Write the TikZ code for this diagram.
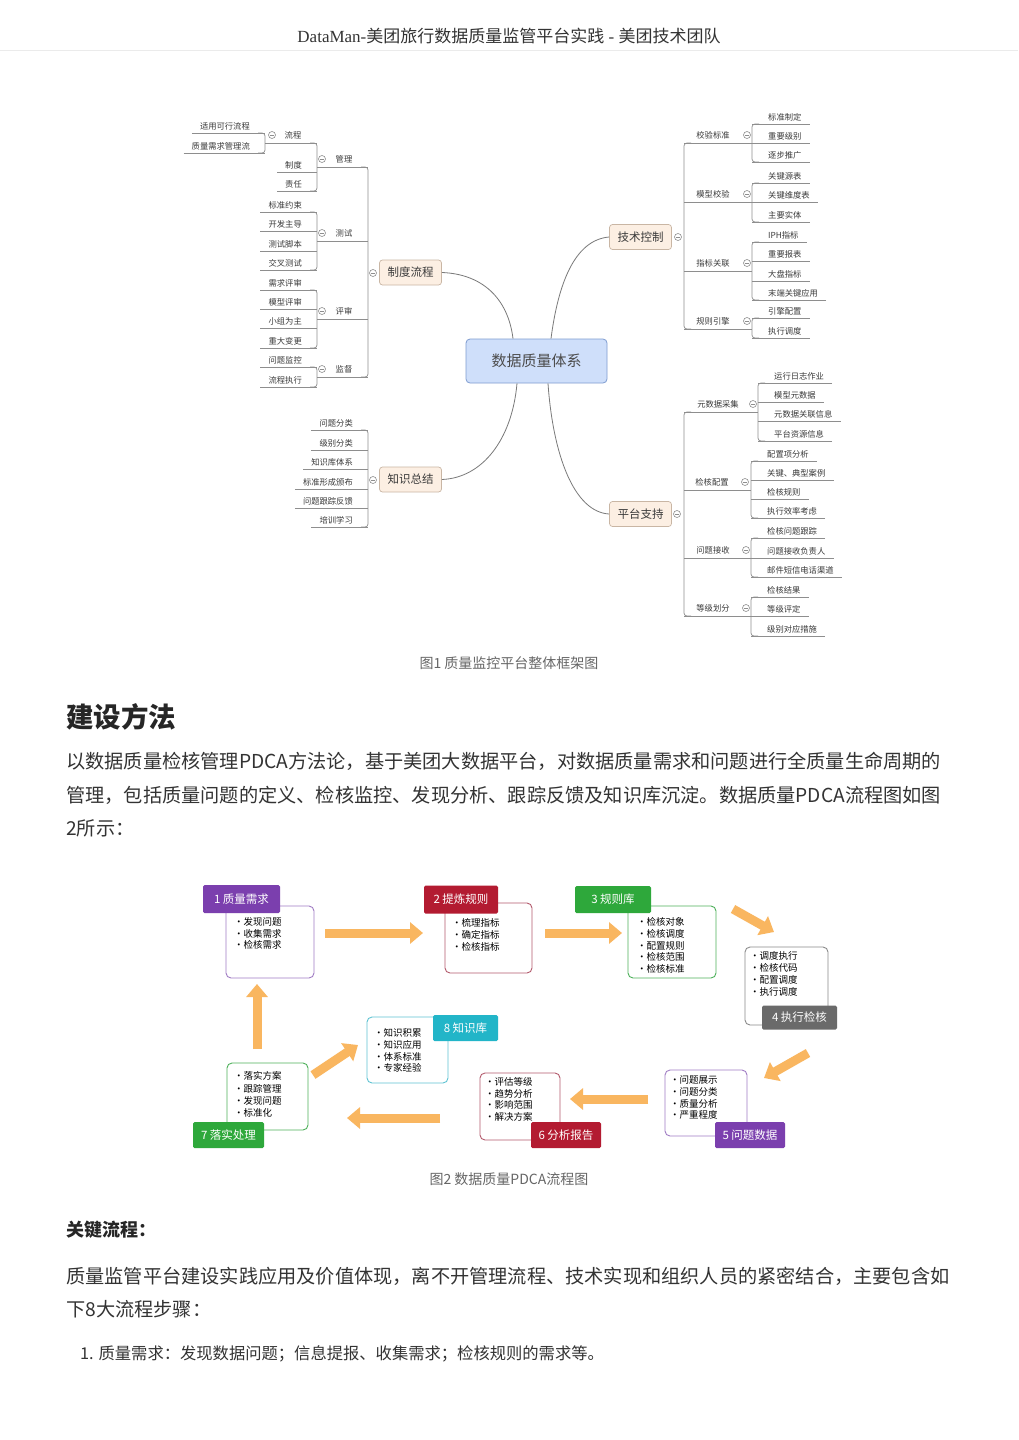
\documentclass[tikz,border=0pt]{standalone}
\usepackage{fontspec}
\setmainfont{Noto Sans CJK SC}
\newfontfamily\lserif{Liberation Serif}
\usetikzlibrary{arrows.meta}
\definecolor{mmgray}{HTML}{8E8E8E}
\definecolor{mmtext}{HTML}{3A3A3A}
\definecolor{ctrfill}{HTML}{CFDFFA}
\definecolor{ctrdraw}{HTML}{7F9CD0}
\definecolor{lonefill}{HTML}{FCEFE3}
\definecolor{lonedraw}{HTML}{C9B6A4}
\definecolor{bodytext}{HTML}{333333}
\definecolor{capgray}{HTML}{666666}
\definecolor{tpurple}{HTML}{7B3FAE}
\definecolor{tred}{HTML}{B31B31}
\definecolor{tgreen}{HTML}{2EA83B}
\definecolor{tgray}{HTML}{6A6A6A}
\definecolor{tteal}{HTML}{22B5C8}
\definecolor{bpurple}{HTML}{A07CC4}
\definecolor{bred}{HTML}{B35A6C}
\definecolor{bgreen}{HTML}{4DB05A}
\definecolor{bgray}{HTML}{8A8A8A}
\definecolor{bteal}{HTML}{5EC3D2}
\definecolor{arr}{HTML}{F9B660}
\newcommand\fsz[2]{\fontsize{#1}{#2}\selectfont}
\tikzset{
  mml/.style={draw=mmgray, line width=0.7pt},
  mmcurve/.style={draw=mmgray!85!black, line width=0.8pt},
  leaf/.style={font=\fsz{8.3}{10}, text=mmtext, inner sep=1pt},
  mmc/.style={circle, draw=mmgray, fill=white, line width=0.6pt, minimum size=7pt, inner sep=0pt},
  lone/.style={draw=lonedraw, fill=lonefill, rounded corners=3pt, minimum width=62pt, minimum height=25pt, font=\fsz{11.5}{13}, text=mmtext, line width=0.7pt},
  central/.style={draw=ctrdraw, fill=ctrfill, rounded corners=4pt, minimum width=141pt, minimum height=44pt, font=\fsz{15}{17}, text=black!70, line width=0.8pt},
  body/.style={font=\fsz{19.2}{23}, text=bodytext, inner sep=0pt, anchor=west},
  caption/.style={font=\fsz{14}{16}, text=capgray, inner sep=0pt},
  tag/.style={fill=#1, text=white, font=\fsz{11.5}{13}, inner sep=0pt, rounded corners=1.5pt},
  cbox/.style={draw=#1, fill=white, rounded corners=5pt, line width=0.9pt, inner sep=0pt},
  item/.style={font=\fsz{9.5}{11}, text=black, inner sep=0pt, anchor=west},
  bigarrow/.style={draw=arr, line width=9pt, -{Triangle[length=13pt,width=21pt]}},
}
\newcommand\mmcirc[3]{\node[mmc] (#1) at (#2,#3) {}; \draw[mml,line width=0.6pt] ([xshift=-2pt]#1.center) -- ([xshift=2pt]#1.center);}
\newcommand\lleaf[4]{\node[leaf,anchor=south east] (#1) at (#2-14,#3-1.5) {#4}; \draw[mml] (#1.south west) ++(-7,1.5) -- (#2,#3);}
\newcommand\rleaf[4]{\node[leaf,anchor=south west] (#1) at (#2+15,#3-1.5) {#4}; \draw[mml] (#1.south east) ++(7,1.5) -- (#2,#3);}
\newcommand\lbr[3]{\draw[mml,rounded corners=3pt] (#1-7,#2) -- (#1,#2) -- (#1,#3) -- (#1-7,#3);}
\newcommand\rbr[3]{\draw[mml,rounded corners=3pt] (#1+7,#2) -- (#1,#2) -- (#1,#3) -- (#1+7,#3);}
% name, text, textx, ul y, childbx, parentbx, circx
\newcommand\lmid[7]{\draw[mml] (#5,#4) -- (#6,#4); \node[leaf] (#1) at (#3,#4-8) {#2}; \mmcirc{#1c}{#7}{#4-8}}
% name, text, textx, ul y, parentbx, childbx, circx
\newcommand\rmid[7]{\draw[mml] (#5,#4) -- (#6,#4); \node[leaf] (#1) at (#3,#4-8) {#2}; \mmcirc{#1c}{#7}{#4-8}}
\begin{document}
\begin{tikzpicture}[x=1pt,y=-1pt]
\useasboundingbox (0,0) rectangle (1018,1440);
\fill[white] (0,0) rectangle (1018,1440);
% header
\node[font=\fsz{17}{19}, text=bodytext, inner sep=0pt] (hdr) at (509,36) {{\lserif DataMan-}美团旅行数据质量监管平台实践{\lserif\ - }美团技术团队};
\draw[black!8, line width=0.8pt] (0,50) -- (1018,50);

% ---------------- mind map ----------------
\node[central] (ctr) at (536.5,361) {数据质量体系};
\node[lone] (zd) at (410.5,272.5) {制度流程};
\node[lone] (zs) at (410.5,479.5) {知识总结};
\node[lone] (jk) at (640.5,237) {技术控制};
\node[lone] (pt) at (640.5,514) {平台支持};
\draw[mmcurve] (zd.east) .. controls (482,274) and (508,298) .. ([xshift=-23.5pt]ctr.north);
\draw[mmcurve] ([xshift=14.5pt]ctr.north) .. controls (558,285) and (574,240) .. (jk.west);
\draw[mmcurve] ([xshift=-19.5pt]ctr.south) .. controls (512,440) and (482,478) .. (zs.east);
\draw[mmcurve] ([xshift=11.5pt]ctr.south) .. controls (553,455) and (574,512) .. (pt.west);

% 制度流程 branch
\lbr{368}{167}{377}
\lmid{gl}{管理}{344}{167}{317}{368}{322}
\lmid{cs}{测试}{344}{241}{317}{368}{322}
\lmid{ps}{评审}{344}{319}{317}{368}{322}
\lmid{jd}{监督}{344}{377}{317}{368}{322}
\lbr{317}{143}{191}
\lmid{lc}{流程}{293}{143}{265}{317}{272}
\lbr{265}{133}{153}
\lleaf{a1}{265}{133}{适用可行流程}
\lleaf{a2}{265}{153}{质量需求管理流}
\lleaf{a3}{317}{172}{制度}
\lleaf{a4}{317}{191}{责任}
\lbr{317}{212}{270}
\lleaf{a5}{317}{212}{标准约束}
\lleaf{a6}{317}{231}{开发主导}
\lleaf{a7}{317}{251}{测试脚本}
\lleaf{a8}{317}{270}{交叉测试}
\lbr{317}{290}{348}
\lleaf{a9}{317}{290}{需求评审}
\lleaf{a10}{317}{309}{模型评审}
\lleaf{a11}{317}{328}{小组为主}
\lleaf{a12}{317}{348}{重大变更}
\lbr{317}{367}{387}
\lleaf{a13}{317}{367}{问题监控}
\lleaf{a14}{317}{387}{流程执行}
\mmcirc{zdc}{373}{273}

% 知识总结 branch
\lbr{368}{430}{527}
\lleaf{k1}{368}{430}{问题分类}
\lleaf{k2}{368}{450}{级别分类}
\lleaf{k3}{368}{469}{知识库体系}
\lleaf{k4}{368}{489}{标准形成颁布}
\lleaf{k5}{368}{508}{问题跟踪反馈}
\lleaf{k6}{368}{527}{培训学习}
\mmcirc{zsc}{373}{480}

% 技术控制 branch
\rbr{684}{143}{329}
\rmid{jy}{校验标准}{713}{143}{684}{752}{747}
\rmid{mx}{模型校验}{713}{202}{684}{752}{747}
\rmid{zb}{指标关联}{713}{271}{684}{752}{747}
\rmid{gz}{规则引擎}{713}{329}{684}{752}{747}
\rbr{752}{124}{162}
\rleaf{b1}{752}{124}{标准制定}
\rleaf{b2}{752}{143}{重要级别}
\rleaf{b3}{752}{162}{逐步推广}
\rbr{752}{183}{222}
\rleaf{b4}{752}{183}{关键源表}
\rleaf{b5}{752}{202}{关键维度表}
\rleaf{b6}{752}{222}{主要实体}
\rbr{752}{242}{300}
\rleaf{b7}{752}{242}{IPH指标}
\rleaf{b8}{752}{261}{重要报表}
\rleaf{b9}{752}{281}{大盘指标}
\rleaf{b10}{752}{300}{末端关键应用}
\rbr{752}{318}{338}
\rleaf{b11}{752}{318}{引擎配置}
\rleaf{b12}{752}{338}{执行调度}
\mmcirc{jkc}{678}{237}

% 平台支持 branch
\rbr{684}{412}{616}
\rmid{ys}{元数据采集}{718}{412}{684}{758}{753}
\rmid{jh}{检核配置}{712}{490}{684}{751}{745}
\rmid{wt}{问题接收}{713}{558}{684}{751}{746}
\rmid{dj}{等级划分}{713}{616}{684}{751}{746}
\rbr{758}{383}{441}
\rleaf{p1}{758}{383}{运行日志作业}
\rleaf{p2}{758}{402}{模型元数据}
\rleaf{p3}{758}{421}{元数据关联信息}
\rleaf{p4}{758}{441}{平台资源信息}
\rbr{751}{461}{518}
\rleaf{p5}{751}{461}{配置项分析}
\rleaf{p6}{751}{480}{关键、典型案例}
\rleaf{p7}{751}{499}{检核规则}
\rleaf{p8}{751}{518}{执行效率考虑}
\rbr{751}{538}{577}
\rleaf{p9}{751}{538}{检核问题跟踪}
\rleaf{p10}{751}{558}{问题接收负责人}
\rleaf{p11}{751}{577}{邮件短信电话渠道}
\rbr{751}{597}{636}
\rleaf{p12}{751}{597}{检核结果}
\rleaf{p13}{751}{616}{等级评定}
\rleaf{p14}{751}{636}{级别对应措施}
\mmcirc{ptc}{677}{514}

\node[caption] (cap1) at (509,663) {图1 质量监控平台整体框架图};

% ---------------- text ----------------
\node[body, font=\fsz{27.5}{30}\bfseries, text=black!85] (h1) at (66,717) {建设方法};
\node[body] (t1) at (66,761) {以数据质量检核管理PDCA方法论，基于美团大数据平台，对数据质量需求和问题进行全质量生命周期的};
\node[body] (t2) at (66,795) {管理，包括质量问题的定义、检核监控、发现分析、跟踪反馈及知识库沉淀。数据质量PDCA流程图如图};
\node[body] (t3) at (66,828) {2所示：};

% ---------------- PDCA ----------------
\node[cbox=bpurple, minimum width=88pt, minimum height=72pt] (c1) at (270,942) {};
\node[cbox=bred, minimum width=87pt, minimum height=70pt] (c2) at (488.5,938) {};
\node[cbox=bgreen, minimum width=88pt, minimum height=72pt] (c3) at (672,942) {};
\node[cbox=bgray, minimum width=83pt, minimum height=78pt] (c4) at (786.5,986) {};
\node[cbox=bpurple, minimum width=82pt, minimum height=66pt] (c5) at (706,1103) {};
\node[cbox=bred, minimum width=80pt, minimum height=67pt] (c6) at (520,1106.5) {};
\node[cbox=bgreen, minimum width=81pt, minimum height=67pt] (c7) at (267.5,1096.5) {};
\node[cbox=bteal, minimum width=81pt, minimum height=66pt] (c8) at (407.5,1050) {};

\node[tag=tpurple, minimum width=77pt, minimum height=28pt] (g1) at (241.5,899) {1 质量需求};
\node[tag=tred, minimum width=74pt, minimum height=28pt] (g2) at (461,899.5) {2 提炼规则};
\node[tag=tgreen, minimum width=76pt, minimum height=27pt] (g3) at (613,899.5) {3 规则库};
\node[tag=tgray, minimum width=75pt, minimum height=24pt] (g4) at (799.5,1017.5) {4 执行检核};
\node[tag=tpurple, minimum width=70pt, minimum height=26pt] (g5) at (750,1135) {5 问题数据};
\node[tag=tred, minimum width=70pt, minimum height=26pt] (g6) at (566,1135) {6 分析报告};
\node[tag=tgreen, minimum width=71pt, minimum height=26pt] (g7) at (228.5,1135) {7 落实处理};
\node[tag=tteal, minimum width=65pt, minimum height=26pt] (g8) at (465.5,1028) {8 知识库};

\foreach \t [count=\i from 0] in {发现问题,收集需求,检核需求}
  \node[item] (i1\i) at (234,922+\i*11.5) {•\t};
\foreach \t [count=\i from 0] in {梳理指标,确定指标,检核指标}
  \node[item] (i2\i) at (452,923+\i*12) {•\t};
\foreach \t [count=\i from 0] in {检核对象,检核调度,配置规则,检核范围,检核标准}
  \node[item] (i3\i) at (637,922+\i*11.75) {•\t};
\foreach \t [count=\i from 0] in {调度执行,检核代码,配置调度,执行调度}
  \node[item] (i4\i) at (750,956+\i*12) {•\t};
\foreach \t [count=\i from 0] in {问题展示,问题分类,质量分析,严重程度}
  \node[item] (i5\i) at (670,1080+\i*11.7) {•\t};
\foreach \t [count=\i from 0] in {评估等级,趋势分析,影响范围,解决方案}
  \node[item] (i6\i) at (485,1082+\i*11.5) {•\t};
\foreach \t/\yy [count=\i from 0] in {落实方案/1076,跟踪管理/1089,发现问题/1101,标准化/1113}
  \node[item] (i7\i) at (234,\yy) {•\t};
\foreach \t [count=\i from 0] in {知识积累,知识应用,体系标准,专家经验}
  \node[item] (i8\i) at (374,1033+\i*11.7) {•\t};

\coordinate (a1s) at (325,933); \coordinate (a1e) at (423,933);
\coordinate (a2s) at (545,933); \coordinate (a2e) at (622,933);
\coordinate (a3s) at (733,909); \coordinate (a3e) at (774,932);
\coordinate (a4s) at (808,1053); \coordinate (a4e) at (764,1078);
\coordinate (a5s) at (648,1099); \coordinate (a5e) at (570,1099);
\coordinate (a6s) at (440,1118); \coordinate (a6e) at (347,1118);
\coordinate (a7s) at (313,1075); \coordinate (a7e) at (358,1045);
\coordinate (a8s) at (257,1049); \coordinate (a8e) at (257,984);
\foreach \k in {1,...,8} \draw[bigarrow] (a\k s) -- (a\k e);

\node[caption] (cap2) at (509,1179) {图2 数据质量PDCA流程图};

% ---------------- lower text ----------------
\node[body, font=\fsz{18}{20}\bfseries, text=black!85] (h2) at (66,1230) {关键流程：};
\node[body] (t4) at (66,1276) {质量监管平台建设实践应用及价值体现，离不开管理流程、技术实现和组织人员的紧密结合，主要包含如};
\node[body] (t5) at (66,1309) {下8大流程步骤：};
\node[body, font=\fsz{16.3}{19}] (t6) at (80,1354) {1. 质量需求：发现数据问题；信息提报、收集需求；检核规则的需求等。};
\end{tikzpicture}
\end{document}
